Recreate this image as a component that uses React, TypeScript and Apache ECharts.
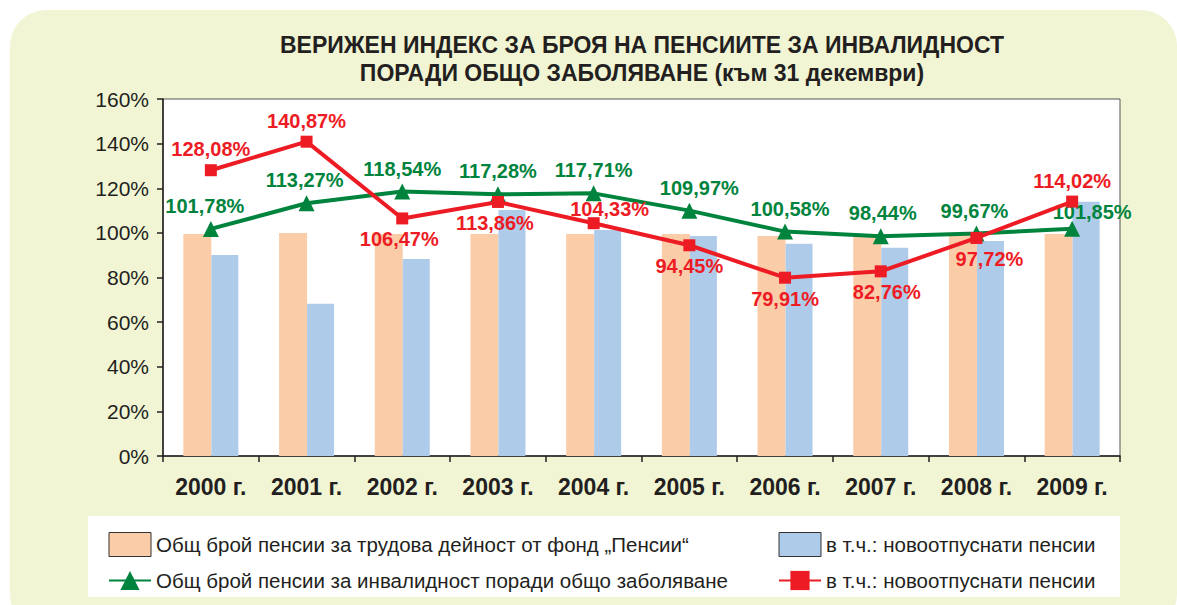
import React, { useEffect, useRef } from "react";
import * as echarts from "echarts";

const years = ["2000 г.", "2001 г.", "2002 г.", "2003 г.", "2004 г.", "2005 г.", "2006 г.", "2007 г.", "2008 г.", "2009 г."];
const labourTotal = [99.5, 100.0, 99.5, 99.5, 99.5, 99.5, 98.6, 98.2, 99.0, 99.5];
const labourNew = [90.1, 68.2, 88.3, 110.3, 101.3, 98.6, 95.1, 93.3, 96.4, 113.9];
const disabilityTotal = [101.78, 113.27, 118.54, 117.28, 117.71, 109.97, 100.58, 98.44, 99.67, 101.85];
const disabilityNew = [128.08, 140.87, 106.47, 113.86, 104.33, 94.45, 79.91, 82.76, 97.72, 114.02];
const yTicks = [0, 20, 40, 60, 80, 100, 120, 140, 160];

const legendNames: Record<string, string> = {
  s1: "Общ брой пенсии за трудова дейност от фонд „Пенсии“",
  s2: "в т.ч.: новоотпуснати пенсии",
  s3: "Общ брой пенсии за инвалидност поради общо заболяване",
  s4: "в т.ч.: новоотпуснати пенсии",
};

// label placements (style only)
const greenPos = ["top", "top", "top", "top", "top", "top", "top", "top", "top", "top"];
const greenOff = [[-6, 0], [-2, 0], [0, 0], [0, 0], [0, 0], [10, 0], [5, 0], [2, 0], [-2, 0], [20, 6]];
const redPos = ["top", "top", "bottom", "bottom", "top", "bottom", "bottom", "bottom", "bottom", "top"];
const redOff = [[0, 0], [0, 0], [-3, 0], [-3, 0], [16, 7], [0, 0], [0, 0], [6, 0], [13, 0], [0, 0]];

const FONT = "'Liberation Sans', Arial, Helvetica, sans-serif";
const GREEN = "#00843d";
const RED = "#ed1c24";
const PEACH = "#fbcca8";
const BLUE = "#aecbea";

const fmt = (v: number) => v.toFixed(2).replace(".", ",") + "%";

export default function App() {
  const ref = useRef<HTMLDivElement>(null);
  useEffect(() => {
    if (!ref.current) return;
    const chart = echarts.init(ref.current, null, { renderer: "svg" });
    const labelBase = { show: true, fontFamily: FONT, fontWeight: "bold", fontSize: 20, distance: 5 };
    const legendText = { fontSize: 20.5, color: "#231f20", fontFamily: FONT };
    chart.setOption({
      animation: false,
      textStyle: { fontFamily: FONT },
      graphic: [
        {
          type: "text",
          x: 642,
          y: 45,
          style: {
            text: "ВЕРИЖЕН ИНДЕКС ЗА БРОЯ НА ПЕНСИИТЕ ЗА ИНВАЛИДНОСТ",
            font: `bold 23px ${FONT}`,
            fill: "#231f20",
            textAlign: "center",
            textVerticalAlign: "middle",
          },
        },
        {
          type: "text",
          x: 642,
          y: 73,
          style: {
            text: "ПОРАДИ ОБЩО ЗАБОЛЯВАНЕ (към 31 декември)",
            font: `bold 23px ${FONT}`,
            fill: "#231f20",
            textAlign: "center",
            textVerticalAlign: "middle",
          },
        },
      ],
      grid: {
        left: 163,
        top: 99,
        right: 57,
        bottom: 149,
        show: true,
        backgroundColor: "#ffffff",
        borderColor: "#555",
        borderWidth: 1,
        containLabel: false,
      },
      legend: [
        {
          orient: "vertical",
          left: 103,
          top: 527,
          itemWidth: 42,
          itemHeight: 24,
          itemGap: 13,
          textStyle: legendText,
          formatter: (n: string) => legendNames[n],
          data: [
            { name: "s1", icon: "rect", itemStyle: { borderColor: "#333", borderWidth: 1 } },
            { name: "s3" },
          ],
          selectedMode: false,
        },
        {
          orient: "vertical",
          left: 773,
          top: 527,
          itemWidth: 42,
          itemHeight: 24,
          itemGap: 13,
          textStyle: legendText,
          formatter: (n: string) => legendNames[n],
          data: [
            { name: "s2", icon: "rect", itemStyle: { borderColor: "#333", borderWidth: 1 } },
            { name: "s4" },
          ],
          selectedMode: false,
        },
      ],
      xAxis: {
        type: "category",
        data: years,
        boundaryGap: true,
        axisLine: { show: true, lineStyle: { color: "#231f20", width: 1.5 } },
        axisTick: { show: true, length: 6, lineStyle: { color: "#231f20", width: 1.5 } },
        axisLabel: { fontSize: 23, fontWeight: "bold", color: "#231f20", margin: 19, fontFamily: FONT },
      },
      yAxis: {
        type: "value",
        min: yTicks[0],
        max: yTicks[yTicks.length - 1],
        interval: 20,
        axisLine: { show: true, lineStyle: { color: "#231f20", width: 1.5 } },
        axisTick: { show: true, length: 6, lineStyle: { color: "#231f20", width: 1.5 } },
        axisLabel: { fontSize: 21, color: "#231f20", formatter: "{value}%", margin: 14, fontFamily: FONT },
        splitLine: { show: false },
      },
      series: [
        {
          name: "s1",
          type: "bar",
          data: labourTotal,
          barWidth: 28,
          barGap: "0%",
          itemStyle: { color: PEACH },
          z: 1,
        },
        {
          name: "s2",
          type: "bar",
          data: labourNew,
          barWidth: 27,
          barGap: "0%",
          itemStyle: { color: BLUE },
          z: 1,
        },
        {
          name: "s3",
          type: "line",
          data: disabilityTotal.map((v, i) => ({
            value: v,
            label: { ...labelBase, position: greenPos[i], offset: greenOff[i] },
          })),
          symbol: "triangle",
          symbolSize: 16,
          lineStyle: { color: GREEN, width: 4 },
          itemStyle: { color: GREEN },
          label: { ...labelBase, color: GREEN, formatter: (p: any) => fmt(p.value) },
          z: 3,
        },
        {
          name: "s4",
          type: "line",
          data: disabilityNew.map((v, i) => ({
            value: v,
            label: { ...labelBase, position: redPos[i], offset: redOff[i] },
          })),
          symbol: "rect",
          symbolSize: 12,
          lineStyle: { color: RED, width: 4 },
          itemStyle: { color: RED },
          label: { ...labelBase, color: RED, formatter: (p: any) => fmt(p.value) },
          z: 4,
        },
      ],
    });
    return () => chart.dispose();
  }, []);

  return (
    <div style={{ position: "fixed", left: 0, top: 0, width: 1177, height: 605, background: "#ffffff", overflow: "hidden" }}>
      <div style={{ position: "absolute", left: 10, top: 10, width: 1167, height: 620, borderRadius: 36, background: "#f1f5d4" }} />
      <div style={{ position: "absolute", left: 88, top: 516, width: 1032, height: 81, background: "#ffffff" }} />
      <div ref={ref} style={{ position: "absolute", left: 0, top: 0, width: 1177, height: 605 }} />
    </div>
  );
}
